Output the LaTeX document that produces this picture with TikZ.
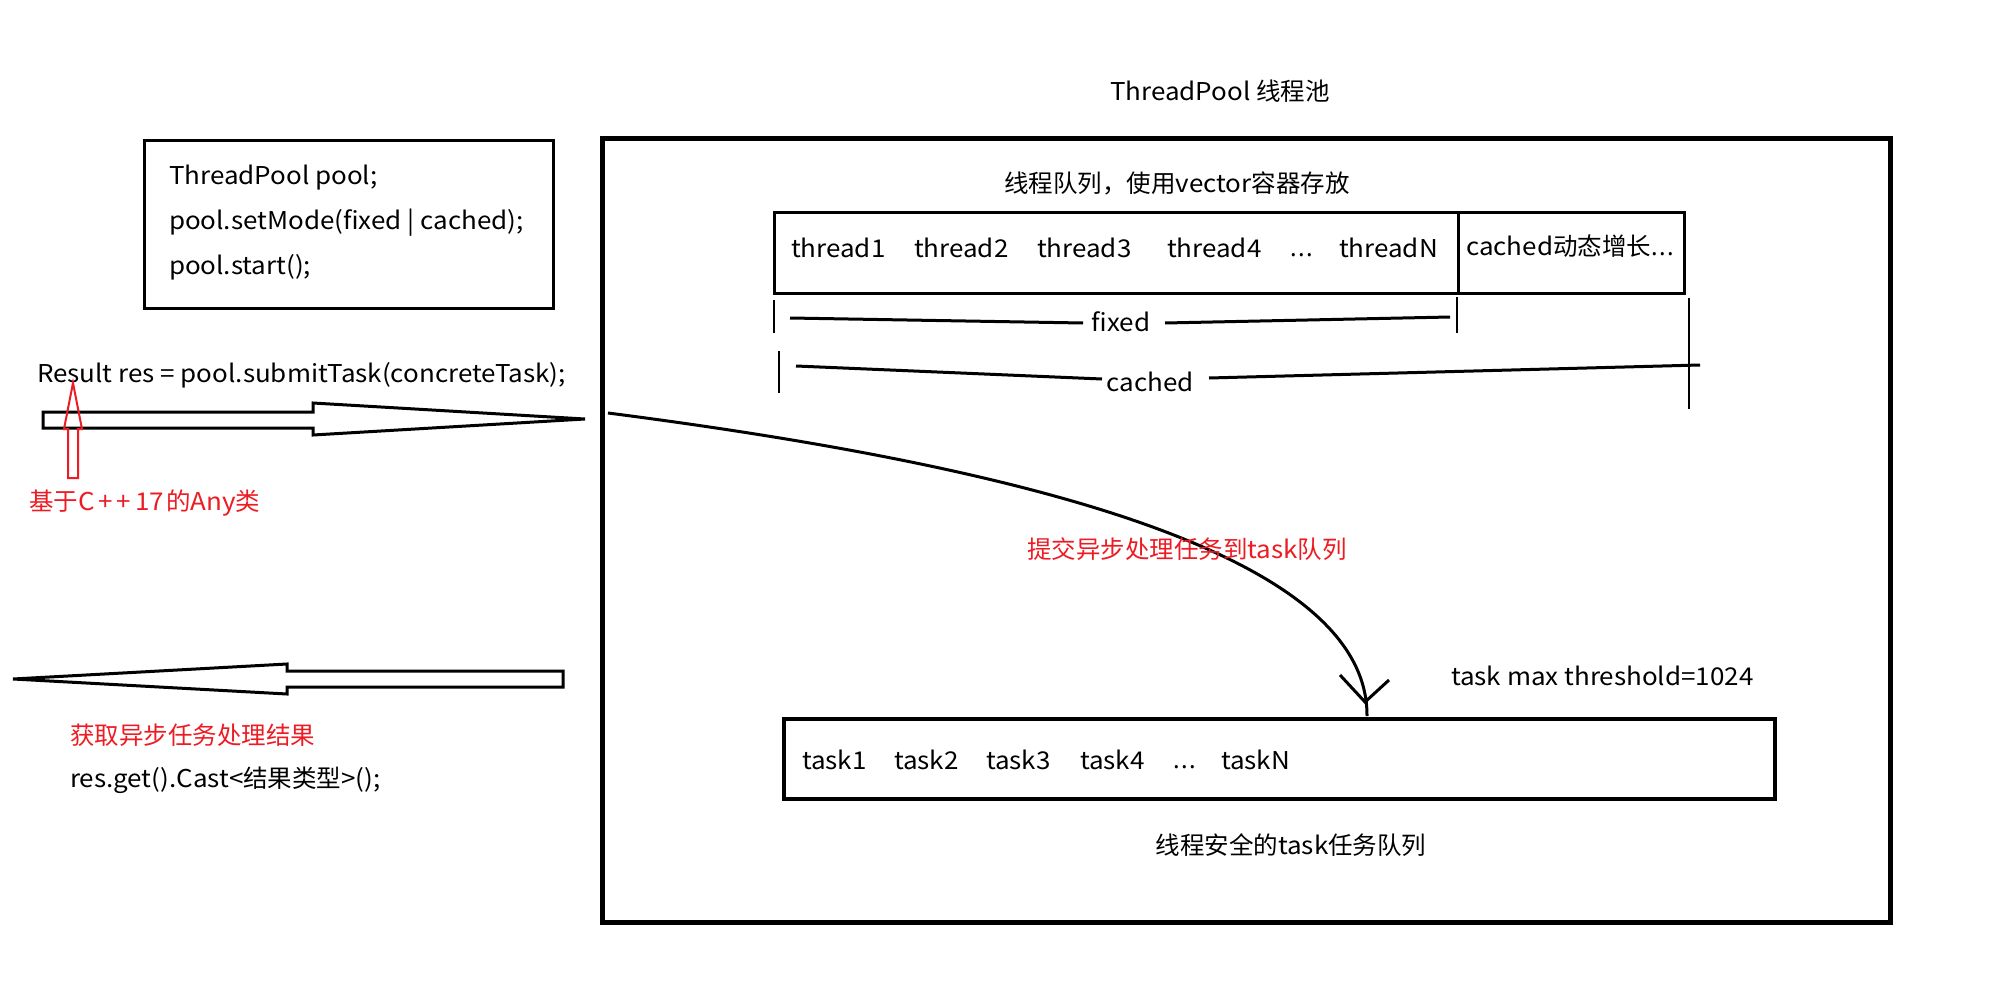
\documentclass[tikz,border=0pt]{standalone}
\usepackage{fontspec}
\setmainfont{Noto Sans CJK SC}[FakeStretch=1.06]
\newfontfamily\cjk{Noto Sans CJK SC}
\newfontfamily\latfont{Noto Sans}
\newcommand{\zh}[1]{{\cjk #1}}
\newcommand{\threedots}{{\latfont .\kern1.5pt.\kern1.5pt.}}
\definecolor{pred}{RGB}{237,28,36}
\begin{document}
\begin{tikzpicture}[x=1pt,y=-1pt,
  txt/.style={font=\fontsize{24.5}{28}\selectfont, inner sep=0pt, outer sep=0pt},
  rtxt/.style={txt, text=pred},
  boxthick/.style={draw, line width=5pt, inner sep=0pt, outer sep=0pt, anchor=north west},
  boxthin/.style={draw, line width=3pt, inner sep=0pt, outer sep=0pt, anchor=north west},
  bline/.style={line width=3pt},
  tick/.style={line width=2.5pt},
  hollow/.style={draw, line width=3pt, fill=white, line join=miter},
  redarrow/.style={draw=pred, line width=2pt, line join=miter}
]
\useasboundingbox[fill=white] (0,0) rectangle (2000,982);

% title
\node[txt] (title) at (1220,91) {ThreadPool \zh{线程池}};

% pool box
\node[boxthick, minimum width=1288pt, minimum height=784pt] (pool) at (602,138) {};

% code box
\node[boxthin, minimum width=409pt, minimum height=168pt] (code) at (144,140) {};
\node[txt, anchor=west] (c1) at (169,178) {ThreadPool pool;};
\node[txt, anchor=west] (c2) at (169,223) {pool.setMode(fixed | cached);};
\node[txt, anchor=west] (c3) at (169,267) {pool.start();};

% submit
\node[txt, anchor=west] (submit) at (37,375) {Result res = pool.submitTask(concreteTask);};
\coordinate (ra0) at (43,412);
\draw[hollow] (ra0) -- (313,412) -- (313,403) -- (585,419) -- (313,435) -- (313,428) -- (43,428) -- cycle;

% red up arrow
\coordinate (anytip) at (73,383);
\draw[redarrow] (anytip) -- (82,429) -- (78,429) -- (78,478) -- (68,478) -- (68,429) -- (64,429) -- cycle;
\node[rtxt, anchor=west] (any) at (29,503) {\zh{基于}C\kern4pt+\kern4pt+\kern4pt17\kern2pt\zh{的}Any\zh{类}};

% result arrow
\coordinate (la0) at (563,671);
\draw[hollow] (la0) -- (287,671) -- (287,664) -- (13,679) -- (287,694) -- (287,687) -- (563,687) -- cycle;
\node[rtxt, anchor=west] (get) at (70,735) {\zh{获取异步任务处理结果}};
\node[txt, anchor=west] (cast) at (70,780) {res.get().Cast<\zh{结果类型}>();};

% thread queue
\node[txt] (tqtitle) at (1177,183) {\zh{线程队列，使用}vector\zh{容器存放}};
\node[boxthin, minimum width=910pt, minimum height=81pt] (tq) at (774,212) {};
\draw[bline] (1458,212) -- (1458,293);
\node[txt, anchor=west] (th1) at (791,248) {thread1};
\node[txt, anchor=west] (th2) at (914,248) {thread2};
\node[txt, anchor=west] (th3) at (1037,248) {thread3};
\node[txt, anchor=west] (th4) at (1167,248) {thread4};
\node[txt, anchor=base west] (thd) at (1290,256) {\threedots};
\node[txt, anchor=west] (thn) at (1339,248) {threadN};
\node[txt, anchor=west] (thc) at (1466,246) {cached\zh{动态增长}\threedots};

% fixed bracket
\node[txt] (fixed) at (1121,322) {fixed};
\coordinate (fxl1) at (774,300); \coordinate (fxl2) at (774,333);
\coordinate (fxr1) at (1457,297); \coordinate (fxr2) at (1457,333);
\draw[tick] (fxl1) -- (fxl2);
\draw[tick] (fxr1) -- (fxr2);
\draw[bline] (790,318) -- (1083,323);
\draw[bline] (1165,323) -- (1450,317);

% cached bracket
\node[txt] (cached) at (1150,382) {cached};
\coordinate (cal1) at (779,351); \coordinate (cal2) at (779,393);
\coordinate (car1) at (1689,298); \coordinate (car2) at (1689,409);
\draw[tick] (cal1) -- (cal2);
\draw[tick] (car1) -- (car2);
\draw[bline] (796,366) -- (1102,379);
\draw[bline] (1209,378) -- (1700,365);

% submit curve
\coordinate (cs) at (608,413);
\coordinate (ce) at (1367,716);
\coordinate (tip) at (1365,702);
\draw[line width=3pt] (cs) .. controls (1050,470) and (1368,560) .. (ce);
\draw[line width=3pt] (1340,675) -- (tip) -- (1389,680);
\node[rtxt] (submitlbl) at (1187,549) {\zh{提交异步处理任务到}task\zh{队列}};
\node[txt, anchor=west] (thr) at (1451,676) {task max threshold=1024};

% task queue
\node[boxthin, line width=3.5pt, minimum width=991pt, minimum height=80pt] (taskq) at (784,719) {};
\node[txt, anchor=west] (t1) at (802,760) {task1};
\node[txt, anchor=west] (t2) at (894,760) {task2};
\node[txt, anchor=west] (t3) at (986,760) {task3};
\node[txt, anchor=west] (t4) at (1080,760) {task4};
\node[txt, anchor=base west] (td) at (1173,768) {\threedots};
\node[txt, anchor=west] (tn) at (1221,760) {taskN};
\node[txt] (tqlbl) at (1291,845) {\zh{线程安全的}task\zh{任务队列}};
\end{tikzpicture}
\end{document}
